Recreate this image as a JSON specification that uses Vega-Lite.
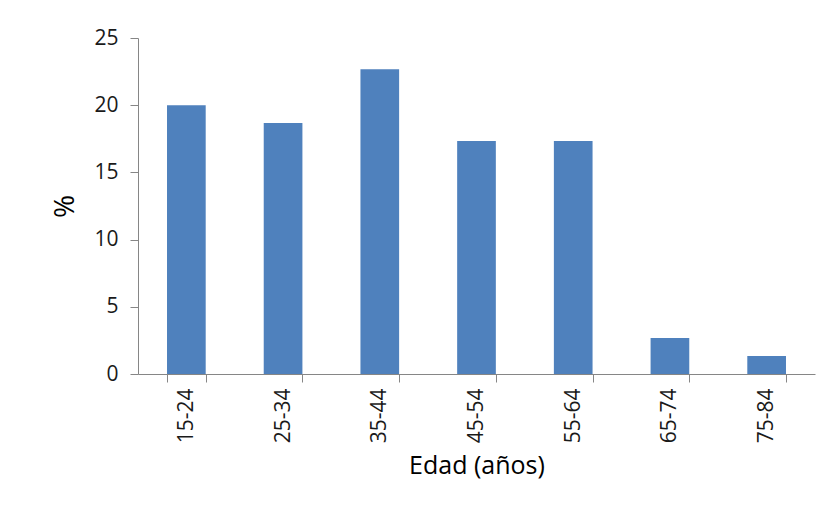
{
  "$schema": "https://vega.github.io/schema/vega-lite/v6.json",
  "width": 677,
  "height": 336,
  "autosize": {"type": "none"},
  "padding": {"left": 138, "top": 38, "right": 20, "bottom": 148},
  "background": "white",
  "config": {"view": {"stroke": null}, "font": "Open Sans"},
  "data": {
    "values": [
      {"edad": "15-24", "pct": 20.0},
      {"edad": "25-34", "pct": 18.67},
      {"edad": "35-44", "pct": 22.67},
      {"edad": "45-54", "pct": 17.33},
      {"edad": "55-64", "pct": 17.33},
      {"edad": "65-74", "pct": 2.67},
      {"edad": "75-84", "pct": 1.33}
    ]
  },
  "mark": {"type": "bar", "color": "#4F81BD"},
  "encoding": {
    "x": {
      "field": "edad",
      "type": "nominal",
      "sort": null,
      "scale": {"paddingInner": 0.6, "paddingOuter": 0.3},
      "axis": {
        "title": "Edad (años)",
        "labelAngle": -90,
        "tickBand": "extent",
        "domainColor": "#868686",
        "tickColor": "#868686",
        "tickSize": 8,
        "labelPadding": 6,
        "labelFontSize": 21,
        "labelColor": "#1a1a1a",
        "titleFontSize": 25,
        "titleFontWeight": "normal",
        "titleColor": "#000000",
        "titlePadding": 11,
        "grid": false
      }
    },
    "y": {
      "field": "pct",
      "type": "quantitative",
      "scale": {"domain": [0, 25], "nice": false},
      "axis": {
        "title": "%",
        "values": [0, 5, 10, 15, 20, 25],
        "grid": false,
        "domainColor": "#868686",
        "tickColor": "#868686",
        "tickSize": 8,
        "labelPadding": 12,
        "labelFontSize": 21,
        "labelColor": "#1a1a1a",
        "titleFontSize": 28,
        "titleFontWeight": "normal",
        "titleColor": "#000000",
        "titlePadding": 14
      }
    }
  }
}
